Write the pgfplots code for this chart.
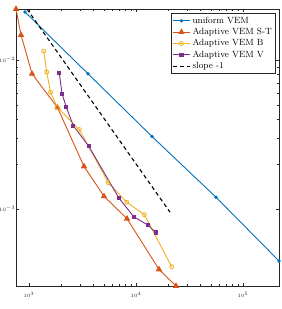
\documentclass[border=0pt]{standalone}
\usepackage{pgfplots}
\pgfplotsset{compat=1.18}
\definecolor{mblue}{rgb}{0,0.4470,0.7410}
\definecolor{morange}{rgb}{0.8500,0.3250,0.0980}
\definecolor{myellow}{rgb}{0.9290,0.6940,0.1250}
\definecolor{mpurple}{rgb}{0.4940,0.1840,0.5560}
\definecolor{maxis}{rgb}{0.15,0.15,0.15}
\begin{document}
\begin{tikzpicture}
\begin{loglogaxis}[
  name=ax,
  scale only axis,
  width=263pt, height=277pt,
  xmin=756, xmax=216900,
  ymin=3.05e-4, ymax=0.02211,
  axis line style={maxis, line width=0.5pt},
  tick style={maxis, line width=0.5pt},
  major tick length=3pt, minor tick length=1.6pt,
  tick align=inside,
  xtick={1000,10000,100000},
  ytick={0.001,0.01},
  tick label style={font=\tiny, text=maxis},
  xticklabel style={yshift=-3pt},
  yticklabel style={inner xsep=1pt, xshift=0.5pt},
  legend style={at={(0.985,0.985)}, anchor=north east, font=\fontsize{9}{10.5}\selectfont,
    draw=maxis, line width=0.5pt, inner xsep=1pt, inner ysep=1.5pt, row sep=-0.6pt,
    cells={anchor=west}},
  legend cell align=left,
]
\addplot[mblue, line width=0.9pt, mark=*, mark size=1.2pt] coordinates {
 (918,0.02112) (3559,0.008124) (14110,0.003079) (55940,0.001203) (216900,4.49e-4)};
\addlegendentry{uniform VEM}
\addplot[morange, line width=0.9pt, mark=triangle*, mark size=2.8pt] coordinates {
 (756,0.02211) (842,0.01481) (1067,0.008124) (1846,0.004812) (3266,0.001939)
 (5023,0.001222) (8241,8.64e-4) (16410,3.94e-4) (23650,3.05e-4)};
\addlegendentry{Adaptive VEM S-T}
\addplot[myellow, line width=0.9pt, mark=o, mark size=2pt, mark options={fill=white, line width=0.8pt}] coordinates {
 (1372,0.01152) (1463,0.008338) (1588,0.006109) (1839,0.004834) (2952,0.003428)
 (5509,0.001509) (8187,0.001114) (11960,9.19e-4) (21560,4.11e-4)};
\addlegendentry{Adaptive VEM B}
\addplot[mpurple, line width=0.9pt, mark=square*, mark size=1.6pt] coordinates {
 (1920,0.008185) (2034,0.005970) (2232,0.004849) (2594,0.003635) (3613,0.002651)
 (6936,0.001185) (9518,8.91e-4) (12950,7.82e-4) (15280,6.98e-4)};
\addlegendentry{Adaptive VEM V}
\addplot[black, line width=1.1pt, dash pattern=on 4pt off 3pt] coordinates {
 (958,0.0221) (20790,9.55e-4)};
\addlegendentry{slope -1}
\end{loglogaxis}
\pgfresetboundingbox
\useasboundingbox ([xshift=-16pt,yshift=-23pt]ax.south west) rectangle ([xshift=3pt,yshift=9pt]ax.north east);
\end{tikzpicture}
\end{document}
